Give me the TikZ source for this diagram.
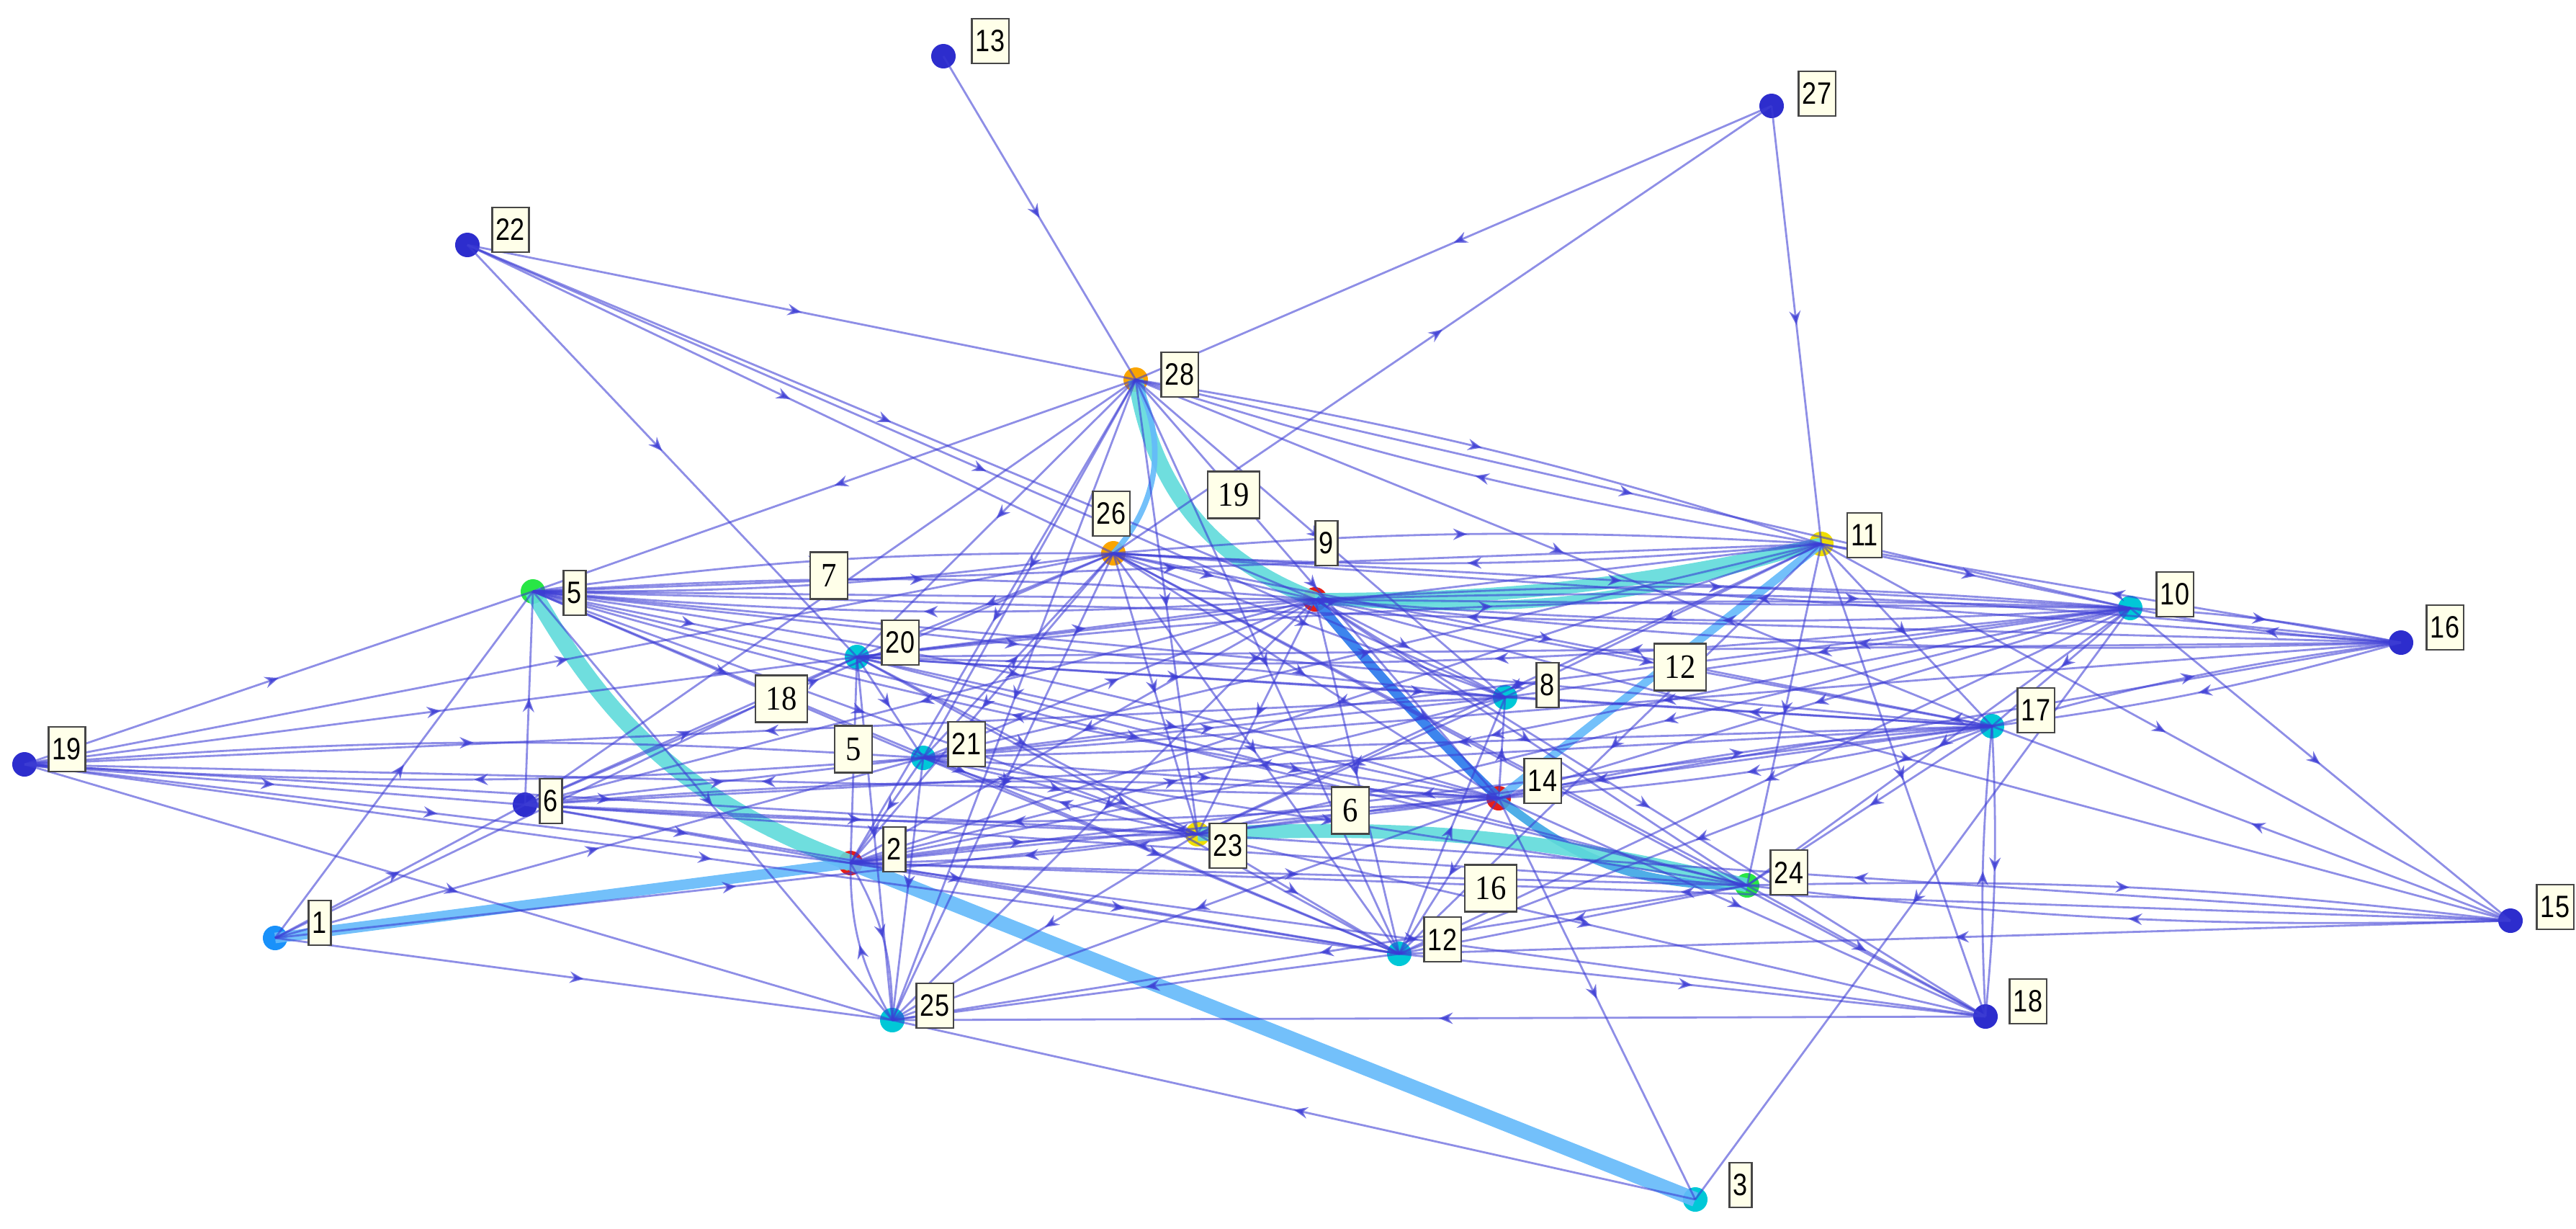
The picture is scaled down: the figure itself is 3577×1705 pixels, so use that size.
\documentclass[tikz,border=0pt]{standalone}
\usepackage{fontspec}
\newfontfamily\lblfont[FakeStretch=0.84]{Liberation Sans}
\newfontfamily\wfont[FakeStretch=0.9]{Liberation Serif}
\usetikzlibrary{arrows.meta,decorations.markings}
\definecolor{edgec}{RGB}{60,60,212}
\definecolor{dblue}{RGB}{45,45,205}
\definecolor{azure}{RGB}{25,145,250}
\definecolor{cyanN}{RGB}{0,200,215}
\definecolor{greenN}{RGB}{40,230,70}
\definecolor{yellowN}{RGB}{240,222,0}
\definecolor{orangeN}{RGB}{250,165,0}
\definecolor{redN}{RGB}{230,30,25}
\definecolor{hcyan}{RGB}{95,218,218}
\definecolor{hlight}{RGB}{100,185,250}
\definecolor{hblue}{RGB}{40,120,235}
\definecolor{hmid}{RGB}{60,165,228}
\definecolor{boxfill}{RGB}{255,255,233}
\definecolor{boxdraw}{RGB}{70,70,70}
\tikzset{
  nd/.style={circle, inner sep=0pt, minimum size=0.34cm, fill=#1},
  edge/.style={draw=edgec, draw opacity=0.58, line width=0.8pt,
    postaction={decorate},
    decoration={markings, mark=at position 0.5 with {\arrow[opacity=0.7]{Stealth[length=5.5pt,width=4.5pt]}}}},
  hedge/.style={draw=#1, line width=6pt, opacity=0.9},
  lbl/.style={draw=boxdraw, line width=0.6pt, fill=boxfill, inner xsep=0.055cm, inner ysep=0pt,
    minimum height=0.62cm, font=\lblfont\fontsize{12.2}{13}\selectfont},
  wlbl/.style={draw=boxdraw, line width=0.6pt, fill=boxfill, inner xsep=0.15cm, inner ysep=0pt,
    minimum height=0.65cm, font=\wfont\fontsize{13.5}{14}\selectfont}
}
\begin{document}
\begin{tikzpicture}[x=0.01cm,y=-0.01cm]
\useasboundingbox (0,0) rectangle (3577,1705);
% nodes
\node[nd=azure]   (n1)  at (382,1302) {};
\node[nd=redN]    (n2)  at (1181,1198) {};
\node[nd=cyanN]   (n3)  at (2354,1665) {};
\node[nd=greenN]  (n5)  at (740,821) {};
\node[nd=dblue]   (n6)  at (729,1117) {};
\node[nd=cyanN]   (n8)  at (2090,968) {};
\node[nd=redN]    (n9)  at (1826,832) {};
\node[nd=cyanN]   (n10) at (2958,844) {};
\node[nd=yellowN] (n11) at (2529,755) {};
\node[nd=cyanN]   (n12) at (1943,1324) {};
\node[nd=dblue]   (n13) at (1310,78) {};
\node[nd=redN]    (n14) at (2081,1108) {};
\node[nd=dblue]   (n15) at (3486,1278) {};
\node[nd=dblue]   (n16) at (3334,892) {};
\node[nd=cyanN]   (n17) at (2766,1008) {};
\node[nd=dblue]   (n18) at (2757,1411) {};
\node[nd=dblue]   (n19) at (34,1061) {};
\node[nd=cyanN]   (n20) at (1190,912) {};
\node[nd=cyanN]   (n21) at (1282,1052) {};
\node[nd=dblue]   (n22) at (649,340) {};
\node[nd=yellowN] (n23) at (1663,1158) {};
\node[nd=greenN]  (n24) at (2426,1229) {};
\node[nd=cyanN]   (n25) at (1239,1416) {};
\node[nd=orangeN] (n26) at (1546,768) {};
\node[nd=dblue]   (n27) at (2460,147) {};
\node[nd=orangeN] (n28) at (1577,527) {};
% highlighted edges
\draw[hedge=hcyan] (n28.center) to[bend right=30] (n9.center);
\draw[hedge=hcyan, line width=5pt] (n9.center) to[bend right=6] (n11.center);
\draw[hedge=hcyan, line width=3.5pt] (n9.center) to[bend right=11] (n11.center);
\draw[hedge=hlight, line width=2.2pt] (n28.center) to[bend left=35] (n26.center);
\draw[hedge=hcyan, line width=6.5pt] (n5.center) to[bend right=20] (n2.center);
\draw[hedge=hlight, line width=4.2pt] (n1.center) -- (n2.center);
\draw[hedge=hlight, line width=5.8pt] (n2.center) -- (n3.center);
\draw[hedge=hblue, line width=3.8pt] (n9.center) to[bend right=3] (n14.center);
\draw[hedge=hlight, line width=3.3pt] (n11.center) -- (n14.center);
\draw[hedge=hmid, line width=3.5pt] (n14.center) to[bend right=20] (n24.center);
\draw[hedge=hcyan, line width=5.5pt] (n23.center) to[bend left=8] (n24.center);
% thin edges
\foreach \a/\b/\c in {
13/28/0, 27/28/0, 26/27/0, 27/11/0, 22/28/0, 22/20/0, 22/26/0, 22/9/0, 22/8/0,
19/5/0, 19/26/0, 19/20/0, 19/21/4, 21/19/4, 14/19/0, 8/19/0, 19/6/0, 19/2/0, 19/23/0, 19/12/0, 19/25/0,
1/5/0, 1/6/0, 1/20/0, 1/21/0, 1/23/0, 1/25/0,
16/10/4, 10/16/4, 16/11/0, 16/26/0, 16/9/4, 9/16/4, 16/5/0, 16/20/0, 16/17/4, 17/16/4, 16/21/0, 16/14/0,
15/17/0, 11/15/0, 9/15/0, 15/24/4, 24/15/4, 15/23/0, 15/2/0, 15/12/0, 10/15/0,
17/18/4, 18/17/4, 11/18/0, 14/18/0, 9/18/0, 23/18/0, 18/25/0, 12/18/0, 24/18/0, 2/18/0,
10/3/0, 14/3/0, 3/25/0,
28/5/0, 28/20/0, 28/21/0, 28/2/0, 28/23/0, 28/6/0, 28/11/4, 11/28/4, 28/10/0, 28/17/0, 28/14/0, 28/12/0, 28/25/0, 28/8/0,
5/26/4, 26/5/4, 5/9/4, 9/5/4, 5/11/0, 5/10/0, 5/8/0, 5/17/0, 5/14/4, 14/5/4, 5/20/0, 5/21/0, 5/23/0, 5/24/0, 6/5/0, 5/25/0, 5/12/0,
6/20/0, 6/21/0, 6/2/0, 6/23/0, 6/14/4, 14/6/4, 6/12/0, 24/6/0, 17/6/0, 9/6/0, 6/26/0,
20/9/0, 20/11/0, 20/10/4, 10/20/4, 20/17/0, 20/8/0, 20/14/0, 20/23/0, 20/21/0, 20/2/0, 20/25/0, 20/12/0, 20/24/0, 26/20/0,
21/2/0, 21/23/4, 23/21/4, 21/14/0, 17/21/0, 21/9/0, 21/11/0, 21/10/0, 21/25/0, 21/12/0, 21/24/0, 21/26/0, 21/8/0,
26/9/0, 26/11/4, 11/26/4, 26/10/0, 26/17/0, 26/8/0, 26/14/0, 26/23/0, 26/2/0, 26/12/0, 26/24/0, 26/25/0, 26/18/0,
9/10/4, 10/9/4, 9/17/0, 9/8/0, 9/23/0, 9/12/0, 9/24/0, 9/2/0, 9/25/0,
11/10/0, 11/17/0, 11/23/0, 11/2/0, 11/8/0, 11/24/0, 11/12/0,
10/17/0, 10/14/0, 10/23/0, 10/8/0, 10/2/0, 10/24/0, 10/12/0,
17/14/4, 14/17/4, 17/23/0, 17/2/0, 17/8/0, 17/24/0, 17/12/0,
14/23/0, 14/2/0, 14/12/0, 14/8/0, 14/25/0,
23/2/4, 2/23/4, 23/12/0, 23/25/0, 8/23/0, 2/25/15, 25/2/15, 2/12/0, 2/24/0, 2/8/0,
24/12/0, 24/25/0, 12/25/0, 12/8/0}
  \draw[edge] (n\a.center) to[bend left=\c] (n\b.center);
% node labels
\node[lbl] (l1)  at (444,1281) {1};
\node[lbl] (l2)  at (1242,1179) {2};
\node[lbl] (l3)  at (2417,1645) {3};
\node[lbl] (l5)  at (798,823) {5};
\node[lbl] (l6)  at (765,1112) {6};
\node[lbl] (l8)  at (2149,951) {8};
\node[lbl] (l9)  at (1842,754) {9};
\node[lbl] (l10) at (3020,825) {10};
\node[lbl] (l11) at (2589,743) {11};
\node[lbl] (l12) at (2003,1304) {12};
\node[lbl] (l13) at (1375,57) {13};
\node[lbl] (l14) at (2142,1084) {14};
\node[lbl] (l15) at (3548,1259) {15};
\node[lbl] (l16) at (3395,871) {16};
\node[lbl] (l17) at (2827,986) {17};
\node[lbl] (l18) at (2816,1390) {18};
\node[lbl] (l19) at (93,1040) {19};
\node[lbl] (l20) at (1250,892) {20};
\node[lbl] (l21) at (1342,1033) {21};
\node[lbl] (l22) at (709,319) {22};
\node[lbl] (l23) at (1705,1174) {23};
\node[lbl] (l24) at (2484,1211) {24};
\node[lbl] (l25) at (1298,1396) {25};
\node[lbl] (l26) at (1543,713) {26};
\node[lbl] (l27) at (2523,130) {27};
\node[lbl] (l28) at (1638,520) {28};
% weight labels
\node[wlbl] (w19) at (1713,687) {19};
\node[wlbl] (w7)  at (1151,799) {7};
\node[wlbl] (w18) at (1085,970) {18};
\node[wlbl] (w5)  at (1185,1040) {5};
\node[wlbl] (w12) at (2333,926) {12};
\node[wlbl] (w6)  at (1875,1125) {6};
\node[wlbl] (w16) at (2070,1233) {16};
\end{tikzpicture}
\end{document}
